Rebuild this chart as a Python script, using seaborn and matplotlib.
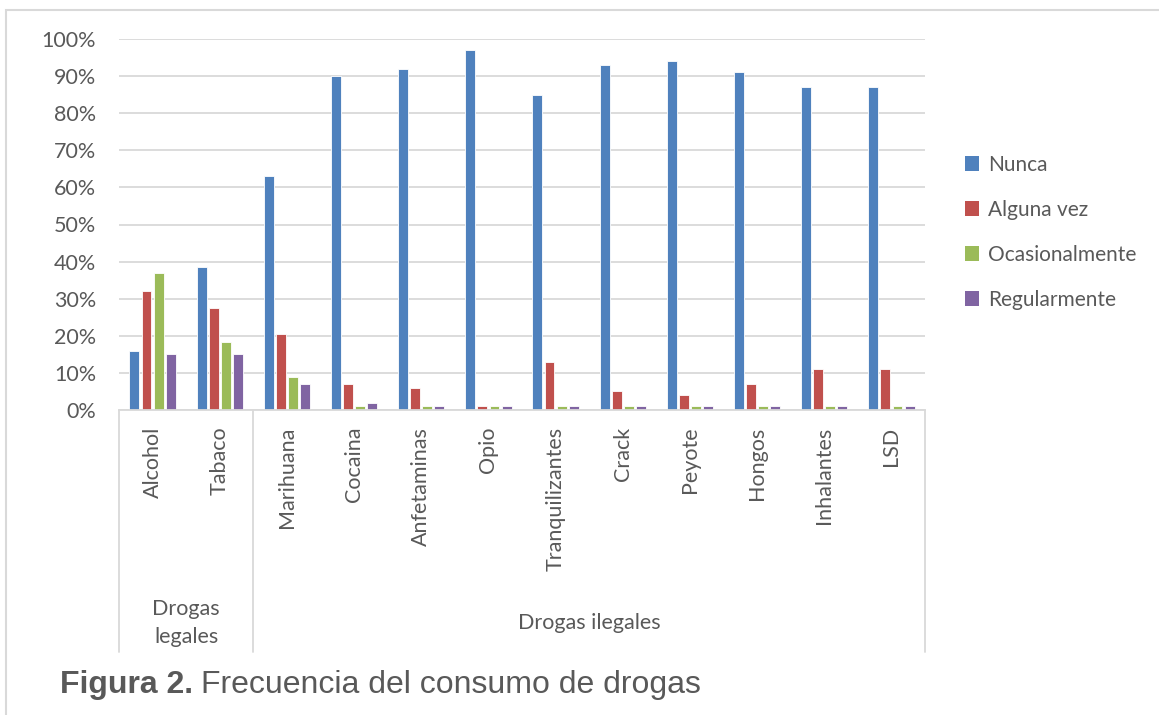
import matplotlib
matplotlib.use("Agg")
import matplotlib.pyplot as plt
import matplotlib.transforms as mtransforms
from matplotlib.patches import Patch, Rectangle
import pandas as pd
import seaborn as sns

# Drug categories and survey response shares (%)
drugs = ["Alcohol", "Tabaco", "Marihuana", "Cocaina", "Anfetaminas", "Opio",
         "Tranquilizantes", "Crack", "Peyote", "Hongos", "Inhalantes", "LSD"]
series = ["Nunca", "Alguna vez", "Ocasionalmente", "Regularmente"]
nunca = [16, 38.5, 63, 90, 92, 97, 85, 93, 94, 91, 87, 87]
alguna_vez = [32, 27.6, 20.6, 7, 6, 1, 13, 5, 4, 7, 11, 11]
ocasionalmente = [37, 18.2, 9, 1, 1, 1, 1, 1, 1, 1, 1, 1]
regularmente = [15, 15.2, 7, 2, 1, 1, 1.2, 1, 1, 1, 1, 1]
groups = ["Drogas\nlegales", "Drogas ilegales"]
group_sizes = [2, 10]
yticks = [0, 10, 20, 30, 40, 50, 60, 70, 80, 90, 100]
ytick_labels = [f"{v}%" for v in yticks]

colors = ["#4F81BD", "#C0504D", "#9BBB59", "#8064A2"]
text_color = "#595959"
grid_color = "#D9D9D9"

df = pd.DataFrame({
    "droga": drugs * 4,
    "serie": sum([[s] * len(drugs) for s in series], []),
    "valor": nunca + alguna_vez + ocasionalmente + regularmente,
})

sns.set_theme(style="white")
plt.rcParams["font.family"] = ["Lato", "DejaVu Sans"]

fig = plt.figure(figsize=(11.59, 7.15), dpi=100)
ax = fig.add_axes([119 / 1159, 1 - 410 / 715, (925 - 119) / 1159, (410 - 39) / 715])

sns.barplot(data=df, x="droga", y="valor", hue="serie", order=drugs,
            hue_order=series, palette=colors, width=0.72, gap=0.18,
            edgecolor="white", linewidth=0.6, saturation=1, ax=ax, legend=False)

ax.set_xlim(-0.5, len(drugs) - 0.5)
ax.set_ylim(0, 100)
ax.set_yticks(yticks)
ax.set_yticklabels(ytick_labels, fontsize=15.5, color=text_color)
ax.tick_params(axis="y", length=0, pad=16.5)
ax.tick_params(axis="x", length=0, pad=12)
ax.set_xticks(range(len(drugs)))
ax.set_xticklabels(drugs, rotation=90, fontsize=15.5, color=text_color, va="top")
ax.set_xlabel("")
ax.set_ylabel("")
ax.yaxis.grid(True, color=grid_color, linewidth=1.3)
ax.set_axisbelow(True)
for side in ["top", "right", "left"]:
    ax.spines[side].set_visible(False)
ax.spines["bottom"].set_color(grid_color)
ax.spines["bottom"].set_linewidth(1.3)

# Group brackets below the category labels
trans = mtransforms.blended_transform_factory(ax.transData, ax.transAxes)
bottom = -(652 - 410) / (410 - 39)
bounds = [-0.5]
for n in group_sizes:
    bounds.append(bounds[-1] + n)
for b in bounds:
    ax.plot([b, b], [0, bottom], color=grid_color, linewidth=1.3,
            transform=trans, clip_on=False)
label_y = -(623 - 410) / (410 - 39)
for i, g in enumerate(groups):
    mid = (bounds[i] + bounds[i + 1]) / 2
    ax.text(mid, label_y, g, transform=trans, ha="center", va="center",
            fontsize=15.5, color=text_color, linespacing=1.45)

# Legend to the right of the plot area
handles = [Patch(facecolor=c, edgecolor="none") for c in colors]
fig.legend(handles, series, loc="upper left",
           bbox_to_anchor=(946 / 1159, 1 - 136 / 715), frameon=False,
           fontsize=15, labelcolor=text_color, handlelength=0.7,
           handleheight=0.7, handletextpad=0.4, labelspacing=1.2)

# Outer frame
fig.patches.append(Rectangle((6 / 1159, -0.05), 1.1, 1 - 10 / 715 + 0.05,
                             transform=fig.transFigure, fill=False,
                             edgecolor=grid_color, linewidth=1.5))

# Caption: bold figure number followed by the title
cap_y = 1 - 685 / 715
t1 = fig.text(60 / 1159, cap_y, "Figura 2.", fontsize=23, fontweight="bold",
              color=text_color, family="Liberation Sans", va="center", ha="left")
fig.canvas.draw()
bb = t1.get_window_extent(renderer=fig.canvas.get_renderer())
fig.text((bb.x1 + 8) / 1159, cap_y, "Frecuencia del consumo de drogas", fontsize=23,
         color=text_color, family="Liberation Sans", va="center", ha="left")

fig.savefig("out.png", dpi=100)
